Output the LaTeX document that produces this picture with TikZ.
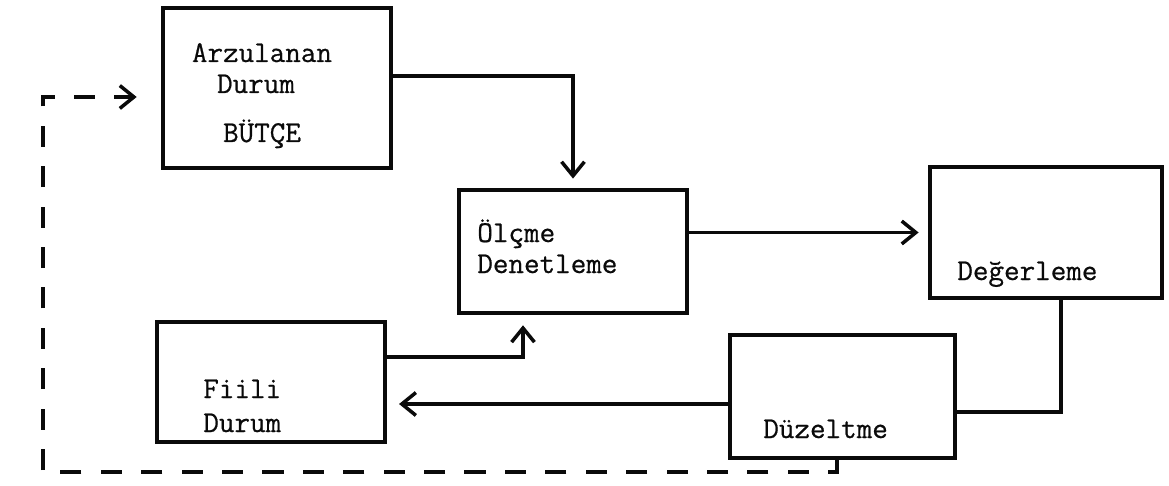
\documentclass[tikz,border=0pt]{standalone}
\usepackage{fontspec}
\newfontfamily\ctlfont{Latin Modern Mono}[FakeBold=0.6]
\usetikzlibrary{arrows.meta,positioning,calc}
\definecolor{CtlInk}{RGB}{10,10,10}
\tikzset{
  ctl/box/.style={
    draw=CtlInk,
    line width=2pt,
    fill=white,
    inner sep=0pt
  },
  ctl/text/.style={
    font=\fontsize{17.2}{18}\selectfont\ctlfont,
    text=CtlInk,
    inner sep=0pt
  },
  ctl/arrow/.style={-{Straight Barb[length=8pt,width=13pt,line width=2pt]}, line width=1.9pt, draw=CtlInk},
  ctl/line/.style={line width=1.9pt, draw=CtlInk},
  ctl/dasharrow/.style={-{Straight Barb[length=8pt,width=13pt,line width=2pt]}, line width=1.9pt, draw=CtlInk, dash pattern=on 12pt off 11pt}
}
\begin{document}
\begin{tikzpicture}[x=0.02cm,y=-0.02cm]
  \useasboundingbox (0,0) rectangle (1169,486);
  % boxes
  \node[ctl/box,minimum width=4.56cm,minimum height=3.2cm] (arz) at (277,88) {};
  \node[ctl/box,minimum width=4.56cm,minimum height=2.46cm] (olc) at (573,251.5) {};
  \node[ctl/box,minimum width=4.64cm,minimum height=2.62cm] (deg) at (1046,232.5) {};
  \node[ctl/box,minimum width=4.56cm,minimum height=2.4cm] (fii) at (271,382) {};
  \node[ctl/box,minimum width=4.5cm,minimum height=2.46cm] (duz) at (842.5,396.5) {};
  % labels
  \node[ctl/text,anchor=base] (arz1) at (262,62) {Arzulanan};
  \node[ctl/text,anchor=base] (arz2) at (256,93) {Durum};
  \node[ctl/text,anchor=base] (arz3) at (262,142) {BÜTÇE};
  \node[ctl/text,anchor=base west] (olc1) at (477,242) {Ölçme};
  \node[ctl/text,anchor=base west] (olc2) at (477,273) {Denetleme};
  \node[ctl/text,anchor=base west] (deg1) at (957,280) {Değerleme};
  \node[ctl/text,anchor=base west] (fii1) at (203,398) {Fiili};
  \node[ctl/text,anchor=base west] (fii2) at (203,432) {Durum};
  \node[ctl/text,anchor=base west] (duz1) at (763,438) {Düzeltme};
  % connectors
  \coordinate (loop) at (43,472);
  \draw[ctl/arrow,shorten >=5.5pt] (arz.east |- 0,76) -| (olc.north);
  \draw[ctl/arrow,shorten >=5.5pt] (olc.east |- deg.west) -- (deg.west);
  \draw[ctl/line] (deg.south -| 1061,0) |- (duz.east |- 0,412);
  \draw[ctl/arrow,shorten >=7pt] (duz.west |- 0,404) -- (fii.east |- 0,404);
  \draw[ctl/arrow,shorten >=6pt] (fii.east |- 0,357) -| (olc.south -| 523,0);
  \draw[ctl/dasharrow,shorten >=14pt] (duz.south -| 837,0) |- (loop) |- (arz.west |- 0,97);
\end{tikzpicture}
\end{document}
